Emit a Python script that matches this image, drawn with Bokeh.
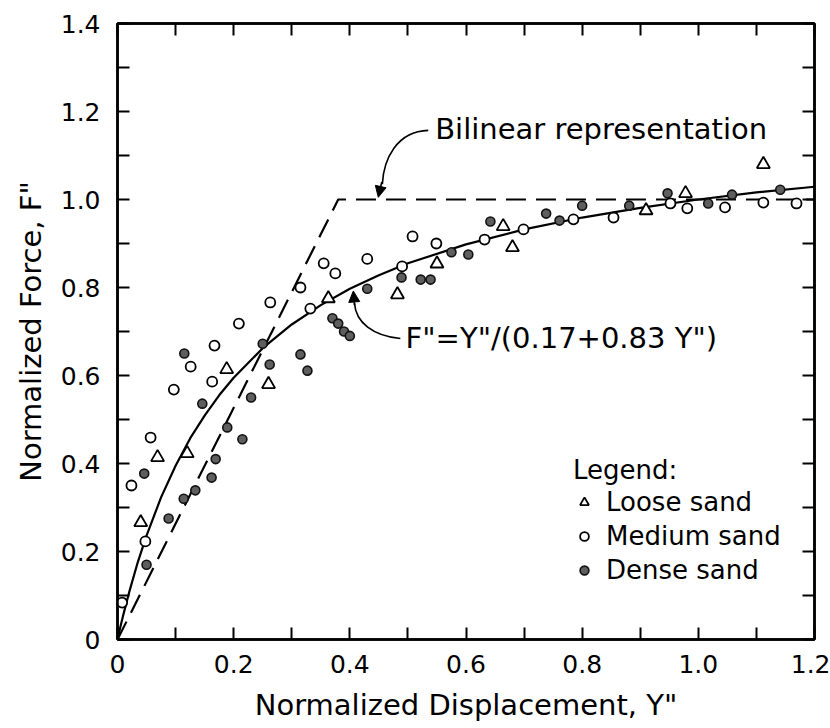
from bokeh.plotting import figure
from bokeh.models import (Range1d, LinearAxis, FixedTicker, Arrow, NormalHead,
                          Legend, LegendItem, Label, PrintfTickFormatter)
from bokeh.embed import file_html
from bokeh.resources import INLINE

# ---------------- data ----------------
loose_x = [0.040, 0.069, 0.120, 0.188, 0.260, 0.363, 0.482, 0.550, 0.664, 0.680, 0.910, 0.978, 1.112]
loose_y = [0.266, 0.414, 0.423, 0.614, 0.580, 0.775, 0.784, 0.854, 0.939, 0.891, 0.975, 1.014, 1.080]

medium_x = [0.008, 0.024, 0.048, 0.057, 0.097, 0.126, 0.163, 0.167, 0.209, 0.263, 0.315,
            0.332, 0.355, 0.375, 0.430, 0.490, 0.508, 0.549, 0.632, 0.699, 0.785, 0.854,
            0.952, 0.981, 1.046, 1.112, 1.169]
medium_y = [0.084, 0.350, 0.223, 0.459, 0.568, 0.620, 0.586, 0.668, 0.718, 0.766, 0.800,
            0.752, 0.855, 0.832, 0.865, 0.848, 0.916, 0.900, 0.909, 0.932, 0.955, 0.959,
            0.991, 0.980, 0.982, 0.993, 0.991]

dense_x = [0.050, 0.046, 0.088, 0.114, 0.134, 0.162, 0.169, 0.189, 0.215, 0.146, 0.115,
           0.230, 0.250, 0.262, 0.315, 0.327, 0.370, 0.380, 0.390, 0.400, 0.430, 0.489,
           0.522, 0.539, 0.575, 0.604, 0.642, 0.738, 0.761, 0.800, 0.881, 0.947, 1.017,
           1.058, 1.141]
dense_y = [0.170, 0.377, 0.275, 0.320, 0.339, 0.368, 0.410, 0.482, 0.455, 0.536, 0.650,
           0.550, 0.672, 0.625, 0.648, 0.611, 0.730, 0.718, 0.700, 0.690, 0.797, 0.823,
           0.818, 0.818, 0.880, 0.875, 0.950, 0.968, 0.952, 0.986, 0.986, 1.014, 0.991,
           1.011, 1.022]

# fitted curve F" = Y"/(0.17+0.83Y")
curve_x = [0.0, 0.005, 0.01, 0.02, 0.035, 0.05, 0.075, 0.1, 0.125, 0.15, 0.175, 0.2, 0.25,
           0.3, 0.35, 0.4, 0.45, 0.5, 0.6, 0.7, 0.8, 0.9, 1.0, 1.1, 1.2]
curve_y = [0.0, 0.029, 0.056, 0.107, 0.176, 0.236, 0.323, 0.395, 0.457, 0.509, 0.555, 0.595,
           0.662, 0.716, 0.760, 0.797, 0.828, 0.855, 0.898, 0.932, 0.959, 0.981, 1.000,
           1.016, 1.029]

# bilinear representation
bilinear_x = [0.0, 0.38, 1.2]
bilinear_y = [0.0, 1.0, 1.0]

x_major = [0.0, 0.2, 0.4, 0.6, 0.8, 1.0, 1.2]
x_minor = [0.1, 0.3, 0.5, 0.7, 0.9, 1.1]
y_major = [0.0, 0.2, 0.4, 0.6, 0.8, 1.0, 1.2, 1.4]
y_minor = [0.1, 0.3, 0.5, 0.7, 0.9, 1.1, 1.3]

title_x = 'Normalized Displacement, Y"'
title_y = 'Normalized Force, F"'
txt_bilinear = "Bilinear representation"
txt_formula = 'F"=Y"/(0.17+0.83 Y")'
legend_title = "Legend:"
legend_labels = ["Loose sand", "Medium sand", "Dense sand"]

FONT = "DejaVu Sans"

p = figure(width=830, height=728, output_backend="svg", toolbar_location=None,
           x_range=Range1d(0, 1.2), y_range=Range1d(0, 1.4),
           min_border_left=117, min_border_right=16, min_border_top=23,
           min_border_bottom=89)
p.xgrid.visible = False
p.ygrid.visible = False
p.outline_line_color = "black"
p.outline_line_width = 2.5
p.background_fill_color = "white"
p.border_fill_color = "white"


def style_axis(ax, ticks, minor, show_labels):
    ax.ticker = FixedTicker(ticks=ticks, minor_ticks=minor)
    ax.axis_line_color = "black"
    ax.axis_line_width = 2.5
    ax.major_tick_in = 12
    ax.major_tick_out = 0
    ax.minor_tick_in = 12
    ax.minor_tick_out = 0
    ax.major_tick_line_width = 2
    ax.minor_tick_line_width = 2
    ax.major_tick_line_color = "black"
    ax.minor_tick_line_color = "black"
    if show_labels:
        ax.formatter = PrintfTickFormatter(format="%.1f")
        ax.major_label_overrides = {0: "0"}
        ax.major_label_text_font = FONT
        ax.major_label_text_font_size = "25px"
        ax.major_label_text_color = "black"
        ax.axis_label_text_font = FONT
        ax.axis_label_text_font_size = "29px"
        ax.axis_label_text_font_style = "normal"
        ax.axis_label_text_color = "black"
    else:
        ax.major_label_overrides = {t: "" for t in ticks}
        ax.major_label_standoff = 0


xa = p.xaxis[0]
ya = p.yaxis[0]
style_axis(xa, x_major, x_minor, True)
style_axis(ya, y_major, y_minor, True)
xa.axis_label = title_x
ya.axis_label = title_y
xa.major_label_standoff = 15
ya.major_label_standoff = 17
xa.axis_label_standoff = 12
ya.axis_label_standoff = 10

top = LinearAxis()
style_axis(top, x_major, x_minor, False)
p.add_layout(top, "above")
right = LinearAxis()
style_axis(right, y_major, y_minor, False)
p.add_layout(right, "right")

# lines
p.line(bilinear_x, bilinear_y, line_color="black", line_width=2.2, line_dash="20 10")
p.line(curve_x, curve_y, line_color="black", line_width=2.2)

# points
r_dense = p.scatter(dense_x, dense_y, marker="circle", size=9, fill_color="#5e5e5e",
                    line_color="#111111", line_width=1.6)
r_medium = p.scatter(medium_x, medium_y, marker="circle", size=10, fill_color="white",
                     line_color="black", line_width=1.8)
r_loose = p.scatter(loose_x, loose_y, marker="triangle", size=13, fill_color="white",
                    line_color="black", line_width=1.8)

# annotations
p.add_layout(Label(x=0.547, y=1.161, text=txt_bilinear, text_baseline="middle",
                   text_font=FONT, text_font_size="29px", text_color="black"))
p.add_layout(Label(x=0.496, y=0.686, text=txt_formula, text_baseline="middle",
                   text_font=FONT, text_font_size="29px", text_color="black"))

p.bezier(x0=[0.535], y0=[1.157], x1=[0.456], y1=[1.035],
         cx0=[0.48], cy0=[1.155], cx1=[0.458], cy1=[1.09],
         line_color="black", line_width=1.6)
p.add_layout(Arrow(end=NormalHead(size=11, fill_color="black", line_color="black"),
                   x_start=0.455, y_start=1.04, x_end=0.449, y_end=1.005,
                   line_color="black", line_width=1.6))

p.bezier(x0=[0.487], y0=[0.684], x1=[0.408], y1=[0.765],
         cx0=[0.44], cy0=[0.69], cx1=[0.41], cy1=[0.72],
         line_color="black", line_width=1.6)
p.add_layout(Arrow(end=NormalHead(size=11, fill_color="black", line_color="black"),
                   x_start=0.408, y_start=0.76, x_end=0.406, y_end=0.792,
                   line_color="black", line_width=1.6))

legend = Legend(items=[LegendItem(label=legend_labels[0], renderers=[r_loose]),
                       LegendItem(label=legend_labels[1], renderers=[r_medium]),
                       LegendItem(label=legend_labels[2], renderers=[r_dense])],
                title=legend_title, location=(456, 54),
                title_text_font=FONT, title_text_font_size="26px",
                title_text_font_style="normal", title_text_color="black",
                title_standoff=2,
                label_text_font=FONT, label_text_font_size="26px",
                label_text_color="black",
                glyph_width=22, glyph_height=22, label_standoff=11,
                spacing=4, padding=0, margin=0,
                border_line_color=None, background_fill_alpha=0)
p.add_layout(legend)

open("out.html", "w").write(file_html(p, INLINE))
